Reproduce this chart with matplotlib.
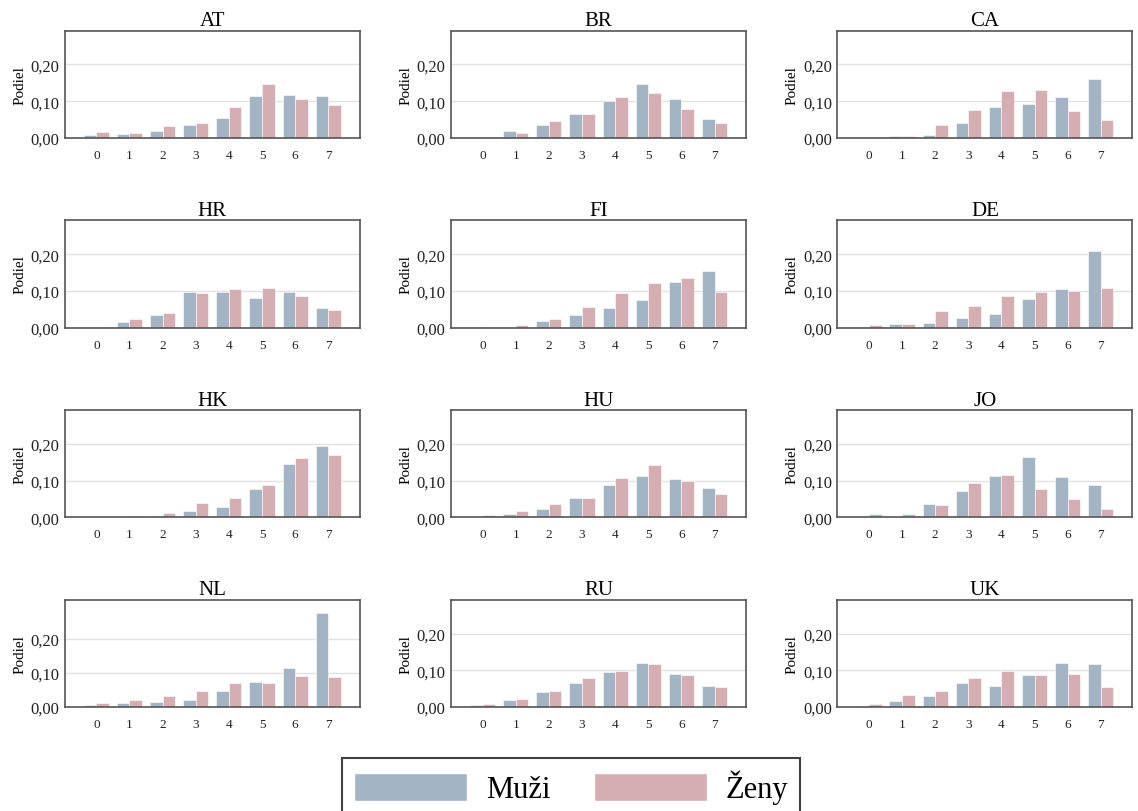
import matplotlib
matplotlib.use("Agg")
import matplotlib.pyplot as plt
from matplotlib.ticker import FuncFormatter
from matplotlib.patches import Patch

plt.rcParams['font.family'] = ['Liberation Serif', 'DejaVu Serif']

# Data
countries = ["AT", "BR", "CA", "HR", "FI", "DE", "HK", "HU", "JO", "NL", "RU", "UK"]
categories = [0, 1, 2, 3, 4, 5, 6, 7]
series_names = ["Muži", "Ženy"]

muzi = {
    "AT": [0.007, 0.011, 0.020, 0.036, 0.054, 0.115, 0.118, 0.113],
    "BR": [0.001, 0.018, 0.035, 0.064, 0.100, 0.148, 0.105, 0.051],
    "CA": [0.001, 0.004, 0.009, 0.041, 0.083, 0.091, 0.112, 0.160],
    "HR": [0.000, 0.015, 0.034, 0.096, 0.098, 0.080, 0.097, 0.054],
    "FI": [0.000, 0.002, 0.018, 0.033, 0.054, 0.076, 0.123, 0.154],
    "DE": [0.002, 0.009, 0.012, 0.025, 0.038, 0.079, 0.104, 0.210],
    "HK": [0.000, 0.000, 0.004, 0.017, 0.029, 0.078, 0.146, 0.194],
    "HU": [0.001, 0.008, 0.023, 0.053, 0.088, 0.113, 0.104, 0.079],
    "JO": [0.001, 0.001, 0.037, 0.071, 0.112, 0.164, 0.109, 0.088],
    "NL": [0.005, 0.012, 0.014, 0.022, 0.048, 0.073, 0.115, 0.274],
    "RU": [0.005, 0.019, 0.040, 0.065, 0.095, 0.119, 0.090, 0.058],
    "UK": [0.003, 0.017, 0.029, 0.065, 0.058, 0.086, 0.119, 0.117],
}
zeny = {
    "AT": [0.016, 0.013, 0.032, 0.041, 0.083, 0.146, 0.105, 0.090],
    "BR": [0.002, 0.013, 0.047, 0.064, 0.110, 0.123, 0.079, 0.040],
    "CA": [0.001, 0.006, 0.034, 0.076, 0.129, 0.131, 0.074, 0.050],
    "HR": [0.002, 0.024, 0.041, 0.095, 0.104, 0.108, 0.085, 0.049],
    "FI": [0.001, 0.006, 0.024, 0.057, 0.093, 0.121, 0.135, 0.098],
    "DE": [0.006, 0.011, 0.044, 0.060, 0.087, 0.098, 0.100, 0.109],
    "HK": [0.001, 0.004, 0.013, 0.038, 0.052, 0.088, 0.161, 0.171],
    "HU": [0.005, 0.016, 0.036, 0.054, 0.106, 0.143, 0.100, 0.063],
    "JO": [0.008, 0.009, 0.033, 0.094, 0.115, 0.077, 0.051, 0.022],
    "NL": [0.012, 0.021, 0.033, 0.046, 0.070, 0.070, 0.092, 0.088],
    "RU": [0.008, 0.021, 0.045, 0.080, 0.098, 0.118, 0.087, 0.055],
    "UK": [0.009, 0.033, 0.044, 0.080, 0.098, 0.086, 0.091, 0.056],
}

c_m = "#a4b4c4"
c_z = "#d4aeb2"
w = 0.38

fig, axes = plt.subplots(4, 3, figsize=(11.38, 8.12), dpi=100)
plt.subplots_adjust(left=0.057, right=0.995, top=0.961, bottom=0.128,
                    wspace=0.31, hspace=0.77)

fmt = FuncFormatter(lambda v, p: f"{v:.2f}".replace(".", ","))

for ax, c in zip(axes.flat, countries):
    m = muzi[c]
    z = zeny[c]
    ax.bar([x - w / 2 for x in categories], m, width=w, color=c_m,
           edgecolor="white", linewidth=0.4, zorder=2)
    ax.bar([x + w / 2 for x in categories], z, width=w, color=c_z,
           edgecolor="white", linewidth=0.4, zorder=2)
    ax.set_xlim(-0.95, 7.95)
    ax.set_ylim(0, max(0.292, 1.145 * max(m + z)))
    ax.set_yticks([0, 0.1, 0.2])
    ax.yaxis.set_major_formatter(fmt)
    ax.set_xticks(categories)
    ax.grid(axis="y", color="#e2e2e2", linewidth=1, zorder=0)
    ax.set_axisbelow(True)
    ax.tick_params(axis="x", length=0, pad=8, labelsize=9.5, colors="#222222")
    ax.tick_params(axis="y", length=0, pad=4, labelsize=12, colors="#222222")
    for s in ax.spines.values():
        s.set_color("#555555")
        s.set_linewidth(1.2)
    ax.set_title(c, fontsize=15, pad=4)
    ax.set_ylabel("Podiel", fontsize=11, labelpad=3)

handles = [Patch(facecolor=c_m, edgecolor="white"),
           Patch(facecolor=c_z, edgecolor="white")]
leg = fig.legend(handles, series_names, loc="upper center",
                 bbox_to_anchor=(0.502, 0.0653), ncol=2, fontsize=22,
                 frameon=True, fancybox=False, handlelength=3.7,
                 handleheight=1.0, handletextpad=0.62, columnspacing=1.4,
                 borderpad=0.39, borderaxespad=0)
leg.get_frame().set_edgecolor("#111111")
leg.get_frame().set_linewidth(1.5)

fig.savefig("out.png", dpi=100)
